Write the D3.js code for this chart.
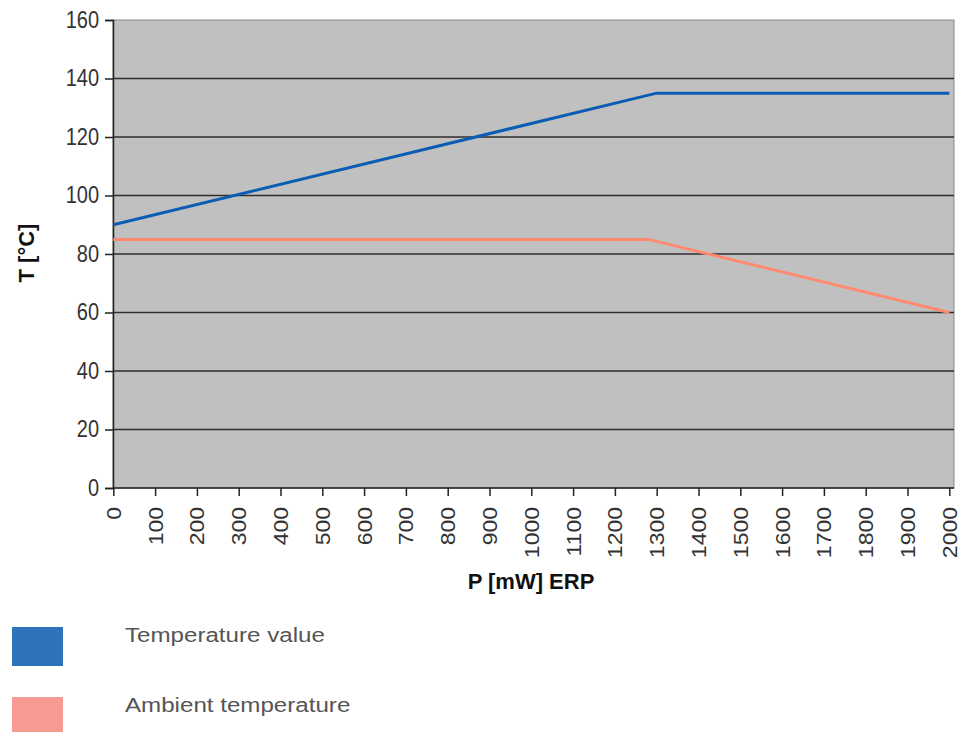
<!DOCTYPE html>
<html><head><meta charset="utf-8">
<script src="https://cdn.jsdelivr.net/npm/d3@7"></script>
<style>body{margin:0;background:#fff}svg{display:block}</style>
</head><body>
<svg id="c" width="963" height="732"></svg>
<script>
const xTicks = [0,100,200,300,400,500,600,700,800,900,1000,1100,1200,1300,1400,1500,1600,1700,1800,1900,2000];
const yTicks = [0,20,40,60,80,100,120,140,160];
const tempP = [0, 1300, 2000];
const tempT = [90, 135, 135];
const ambP = [0, 1280, 2000];
const ambT = [85, 85, 60];
const seriesNames = ["Temperature value", "Ambient temperature"];
const lineColors = ["#0a5cb4", "#ff8a70"];
const swatchColors = ["#2e72b8", "#f79a92"];

const svg = d3.select("#c");
const x = d3.scaleLinear().domain([0,2000]).range([113.3,949.3]);
const y = d3.scaleLinear().domain([0,160]).range([488,20]);
const font = "'Liberation Sans', Arial, sans-serif";

// plot background
svg.append("rect").attr("x",113).attr("y",20).attr("width",841).attr("height",468)
  .attr("fill","#c0c0c0").attr("stroke","#8a8a8a").attr("stroke-width",1);

// gridlines
svg.append("g").selectAll("line").data(yTicks.filter(d=>d>0 && d<160)).join("line")
  .attr("x1",113).attr("x2",954).attr("y1",d=>y(d)).attr("y2",d=>y(d))
  .attr("stroke","#2e2e2e").attr("stroke-width",1.5);

// y axis
const ya = svg.append("g").attr("transform","translate(113,0)")
  .call(d3.axisLeft(y).tickValues(yTicks).tickSize(8).tickPadding(6).tickFormat(d3.format("d")));
ya.select(".domain").attr("stroke","#222").attr("stroke-width",1.5);
ya.selectAll(".tick line").attr("stroke","#222").attr("stroke-width",1.5);
ya.selectAll("text").attr("font-family",font).attr("font-size",20).attr("fill","#333")
  .attr("transform","scale(1,1.15)");

// x axis
const xa = svg.append("g").attr("transform","translate(0,488)")
  .call(d3.axisBottom(x).tickValues(xTicks).tickSize(8).tickFormat(d3.format("d")));
xa.select(".domain").attr("stroke","#222").attr("stroke-width",1.5).attr("d","M113,0H954");
xa.selectAll(".tick line").attr("stroke","#222").attr("stroke-width",1.5);
xa.selectAll("text").attr("font-family",font).attr("font-size",20).attr("fill","#333")
  .attr("text-anchor","end").attr("dy",null).attr("y",0)
  .attr("transform","translate(7,19) rotate(-90) scale(1.15,1)");

// lines
const line = d3.line().x(d=>x(d[0])).y(d=>y(d[1]));
const tempData = tempP.map((p,i)=>[p,tempT[i]]);
const ambData = ambP.map((p,i)=>[p,ambT[i]]);
svg.append("path").datum(ambData).attr("d",line).attr("fill","none")
  .attr("stroke",lineColors[1]).attr("stroke-width",3);
svg.append("path").datum(tempData).attr("d",line).attr("fill","none")
  .attr("stroke",lineColors[0]).attr("stroke-width",3);

// axis titles
svg.append("text").attr("x",531).attr("y",589).attr("text-anchor","middle")
  .attr("font-family",font).attr("font-weight","bold").attr("font-size",22).attr("fill","#111")
  .text("P [mW] ERP");
svg.append("text").attr("transform","translate(34,253) rotate(-90)").attr("text-anchor","middle")
  .attr("font-family",font).attr("font-weight","bold").attr("font-size",22).attr("fill","#111")
  .text("T [°C]");

// legend
const lg = svg.append("g");
const ly = [627, 697];
seriesNames.forEach((n,i)=>{
  lg.append("rect").attr("x",12).attr("y",ly[i]).attr("width",51).attr("height",39).attr("fill",swatchColors[i]);
  lg.append("text").attr("transform",`translate(125,${ly[i]+15}) scale(1.15,1)`)
    .attr("font-family",font).attr("font-size",21).attr("fill","#555").text(n);
});
</script>
</body></html>
